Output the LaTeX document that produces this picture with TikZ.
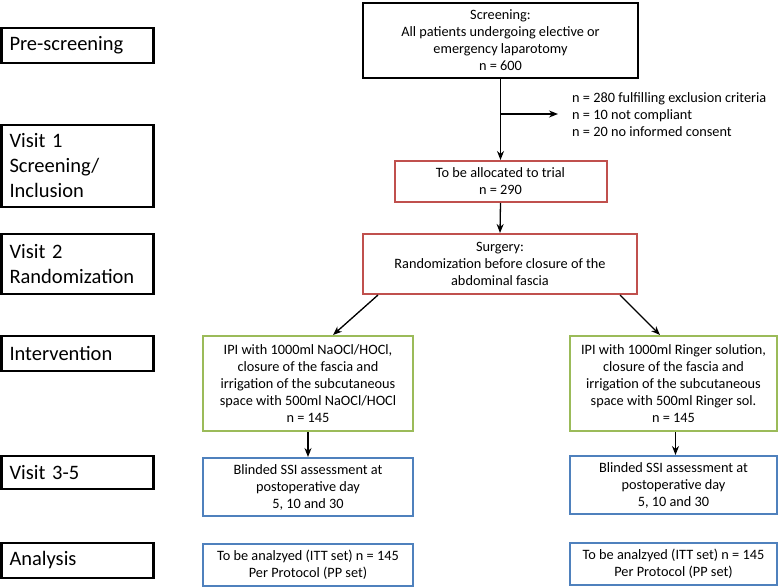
\documentclass[tikz,border=0pt]{standalone}
\usepackage{fontspec}
\setmainfont{Carlito}
\usetikzlibrary{arrows.meta}
\definecolor{cred}{HTML}{C0504D}
\definecolor{cgreen}{HTML}{9BBB59}
\definecolor{cblue}{HTML}{4F81BD}
\begin{document}
\begin{tikzpicture}[x=1pt,y=-1pt,
  lab/.style={draw=black,line width=2.5pt,minimum width=152pt,text width=136pt,align=left,inner xsep=8pt,
    font=\fontsize{20.5}{25}\selectfont},
  box/.style={draw,line width=2pt,align=center,inner sep=0pt,font=\fontsize{14.3}{17}\selectfont},
  arr/.style={-{Stealth[length=9pt,width=7pt]},line width=1.3pt,black}]
\useasboundingbox (0,0) rectangle (780,588);
% left labels
\node[lab,minimum height=35pt] (l1) at (77.5,45.5) {Pre-screening};
\node[lab,minimum height=82pt] (l2) at (77.5,166) {Visit 1\\Screening/\\Inclusion};
\node[lab,minimum height=60pt] (l3) at (77.5,264) {Visit 2\\Randomization};
\node[lab,minimum height=35pt] (l4) at (77.5,353.5) {Intervention};
\node[lab,minimum height=33pt] (l5) at (77.5,472.5) {Visit 3-5};
\node[lab,minimum height=35pt] (l6) at (77.5,560.5) {Analysis};
% main boxes
\node[box,draw=black,line width=2.5pt,minimum width=275pt,minimum height=75pt] (scr) at (500.5,40.5)
  {Screening:\\All patients undergoing elective or\\emergency laparotomy\\n = 600};
\node[box,draw=cred,minimum width=212pt,minimum height=41pt] (alloc) at (500.5,181.5)
  {To be allocated to trial\\n = 290};
\node[box,draw=cred,minimum width=274pt,minimum height=60pt] (surg) at (500,264)
  {Surgery:\\Randomization before closure of the\\abdominal fascia};
\node[box,draw=cgreen,minimum width=210pt,minimum height=95pt] (gl) at (308,383.5)
  {IPI with 1000ml NaOCl/HOCl,\\closure of the fascia and\\irrigation of the subcutaneous\\space with 500ml NaOCl/HOCl\\n = 145};
\node[box,draw=cgreen,minimum width=207pt,minimum height=95pt] (gr) at (673.5,383.5)
  {IPI with 1000ml Ringer solution,\\closure of the fascia and\\irrigation of the subcutaneous\\space with 500ml Ringer sol.\\n = 145};
\node[box,draw=cblue,minimum width=210pt,minimum height=58pt] (bl) at (308,487)
  {Blinded SSI assessment at\\postoperative day\\5, 10 and 30};
\node[box,draw=cblue,minimum width=207pt,minimum height=58pt] (br) at (673.5,485)
  {Blinded SSI assessment at\\postoperative day\\5, 10 and 30};
\node[box,draw=cblue,minimum width=210pt,minimum height=42pt] (al) at (308,565)
  {To be analzyed (ITT set) n = 145\\Per Protocol (PP set)};
\node[box,draw=cblue,minimum width=207pt,minimum height=42pt] (ar) at (673.5,564)
  {To be analzyed (ITT set) n = 145\\Per Protocol (PP set)};
% exclusion
\node[anchor=west,align=left,inner sep=0pt,font=\fontsize{14.3}{17}\selectfont] (excl) at (572,115)
  {n = 280 fulfilling exclusion criteria\\n = 10 not compliant\\n = 20 no informed consent};
\coordinate (brp) at (500.5,114);
% arrows
\draw[arr] (scr.south) -- (alloc.north);
\draw[arr] (brp) -- ([xshift=-14pt]excl.west |- brp);
\draw[arr] (alloc.south) -- (surg.north);
\draw[arr] ([xshift=-122pt]surg.south) -- ([xshift=25pt]gl.north);
\draw[arr] ([xshift=120pt]surg.south) -- ([xshift=-13.5pt]gr.north);
\draw[arr] (gl.south) -- (bl.north);
\draw[arr] ([xshift=2pt]gr.south) -- ([xshift=2pt]br.north);
\end{tikzpicture}
\end{document}
